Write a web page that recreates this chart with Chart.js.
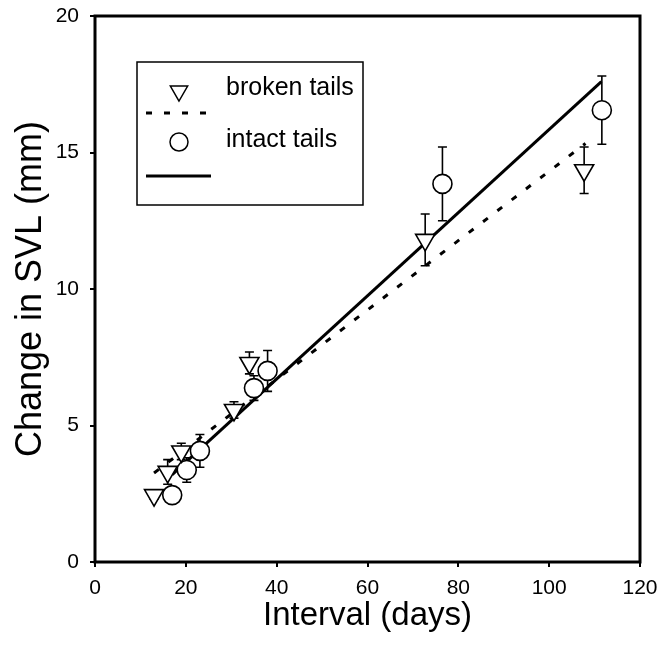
<!DOCTYPE html>
<html>
<head>
<meta charset="utf-8">
<script src="https://cdn.jsdelivr.net/npm/chart.js@4.4.0/dist/chart.umd.min.js"></script>
<style>
  html, body { margin: 0; padding: 0; background: #fff; }
  #wrap { width: 660px; height: 649px; }
</style>
</head>
<body>
<div id="wrap"><canvas id="myChart" width="660" height="649"></canvas></div>
<script>
// broken tails (triangles)
const brokenDays = [13, 16, 19, 30.6, 34, 72.7, 107.7];
const brokenSVL = [2.45, 3.3, 4.05, 5.57, 7.29, 11.8, 14.35];
const brokenErr = [0.15, 0.45, 0.3, 0.3, 0.4, 0.95, 0.85];

// intact tails (circles)
const intactDays = [17, 20.2, 23.1, 35, 38, 76.5, 111.6];
const intactSVL = [2.45, 3.37, 4.07, 6.37, 7.0, 13.85, 16.55];
const intactErr = [0.1, 0.45, 0.6, 0.45, 0.75, 1.35, 1.25];

// regression lines
const brokenFitDays = [13, 108];
const brokenFitSVL = [3.26, 15.33];
const intactFitDays = [17, 111.5];
const intactFitSVL = [3.2, 17.6];

const xTicks = [0, 20, 40, 60, 80, 100, 120];
const yTicks = [0, 5, 10, 15, 20];

const FONT = "'Liberation Sans', Arial, Helvetica, sans-serif";

const toPoints = (xs, ys) => xs.map((x, i) => ({ x: x, y: ys[i] }));

// error bars, drawn under the markers
const errorBars = {
  id: 'errorBars',
  beforeDatasetsDraw(chart) {
    const ctx = chart.ctx;
    const xs = chart.scales.x, ys = chart.scales.y;
    chart.data.datasets.forEach(ds => {
      if (!ds.errors) return;
      ctx.save();
      ctx.strokeStyle = '#000';
      ctx.lineWidth = 1.6;
      ds.data.forEach((p, i) => {
        const px = xs.getPixelForValue(p.x);
        const top = ys.getPixelForValue(p.y + ds.errors[i]);
        const bot = ys.getPixelForValue(p.y - ds.errors[i]);
        ctx.beginPath();
        ctx.moveTo(px, top); ctx.lineTo(px, bot);
        ctx.moveTo(px - 4.5, top); ctx.lineTo(px + 4.5, top);
        ctx.moveTo(px - 4.5, bot); ctx.lineTo(px + 4.5, bot);
        ctx.stroke();
      });
      ctx.restore();
    });
  }
};

// box round the plot + the boxed legend
const frameAndLegend = {
  id: 'frameAndLegend',
  afterDraw(chart) {
    const ctx = chart.ctx;
    const a = chart.chartArea;
    ctx.save();
    ctx.strokeStyle = '#000';
    ctx.lineWidth = 3;
    ctx.strokeRect(a.left, a.top, a.right - a.left, a.bottom - a.top);

    // legend
    ctx.lineWidth = 1.5;
    ctx.fillStyle = '#fff';
    ctx.fillRect(137, 62, 226, 143);
    ctx.strokeRect(137, 62, 226, 143);

    Chart.helpers.drawPoint(ctx, {
      pointStyle: 'triangle', radius: 10, rotation: 180, borderWidth: 1.6
    }, 179, 91);
    Chart.helpers.drawPoint(ctx, {
      pointStyle: 'circle', radius: 9, borderWidth: 1.6
    }, 179, 142);

    ctx.fillStyle = '#000';
    ctx.font = '25px ' + FONT;
    ctx.textBaseline = 'middle';
    ctx.textAlign = 'left';
    ctx.fillText('broken tails', 226, 88);
    ctx.fillText('intact tails', 226, 140);

    ctx.lineWidth = 3;
    ctx.setLineDash([6, 12]);
    ctx.beginPath(); ctx.moveTo(146, 113); ctx.lineTo(206, 113); ctx.stroke();
    ctx.setLineDash([]);
    ctx.beginPath(); ctx.moveTo(146, 176); ctx.lineTo(211, 176); ctx.stroke();
    ctx.restore();
  }
};

const ctx = document.getElementById('myChart').getContext('2d');
Chart.defaults.font.family = FONT;
Chart.defaults.color = '#000';

new Chart(ctx, {
  type: 'scatter',
  data: {
    datasets: [
      {
        label: 'broken tails fit',
        type: 'line',
        data: toPoints(brokenFitDays, brokenFitSVL),
        borderColor: '#000',
        borderWidth: 3,
        borderDash: [6, 12],
        pointRadius: 0,
        fill: false,
        order: 3
      },
      {
        label: 'intact tails fit',
        type: 'line',
        data: toPoints(intactFitDays, intactFitSVL),
        borderColor: '#000',
        borderWidth: 3,
        pointRadius: 0,
        fill: false,
        order: 2
      },
      {
        label: 'broken tails',
        data: toPoints(brokenDays, brokenSVL),
        errors: brokenErr,
        pointStyle: 'triangle',
        rotation: 180,
        pointRadius: 11,
        pointBackgroundColor: '#fff',
        pointBorderColor: '#000',
        pointBorderWidth: 1.6,
        order: 1
      },
      {
        label: 'intact tails',
        data: toPoints(intactDays, intactSVL),
        errors: intactErr,
        pointStyle: 'circle',
        pointRadius: 9.5,
        pointBackgroundColor: '#fff',
        pointBorderColor: '#000',
        pointBorderWidth: 1.6,
        order: 1
      }
    ]
  },
  options: {
    responsive: false,
    animation: false,
    layout: { padding: { top: 16, right: 20, left: 0, bottom: 0 } },
    plugins: {
      legend: { display: false },
      tooltip: { enabled: false }
    },
    scales: {
      x: {
        type: 'linear',
        min: 0, max: 120,
        afterBuildTicks: s => { s.ticks = xTicks.map(v => ({ value: v })); },
        afterFit: s => { s.height = 87; s.paddingLeft = 0; s.paddingRight = 0; },
        grid: { drawOnChartArea: false, drawTicks: true, tickLength: 5, color: '#000', lineWidth: 2 },
        border: { display: false },
        ticks: { padding: 9, font: { size: 21 }, color: '#000' },
        title: { display: true, text: 'Interval (days)', font: { size: 33 }, padding: { top: 0, bottom: 13 }, color: '#000' }
      },
      y: {
        type: 'linear',
        min: 0, max: 20,
        afterBuildTicks: s => { s.ticks = yTicks.map(v => ({ value: v })); },
        afterFit: s => { s.width = 95; s.paddingTop = 0; s.paddingBottom = 0; },
        grid: { drawOnChartArea: false, drawTicks: true, tickLength: 5, color: '#000', lineWidth: 2 },
        border: { display: false },
        ticks: { padding: 11, font: { size: 21 }, color: '#000' },
        title: { display: true, text: 'Change in SVL (mm)', font: { size: 36 }, padding: { top: 9, bottom: 0 }, color: '#000' }
      }
    }
  },
  plugins: [errorBars, frameAndLegend]
});
</script>
</body>
</html>
